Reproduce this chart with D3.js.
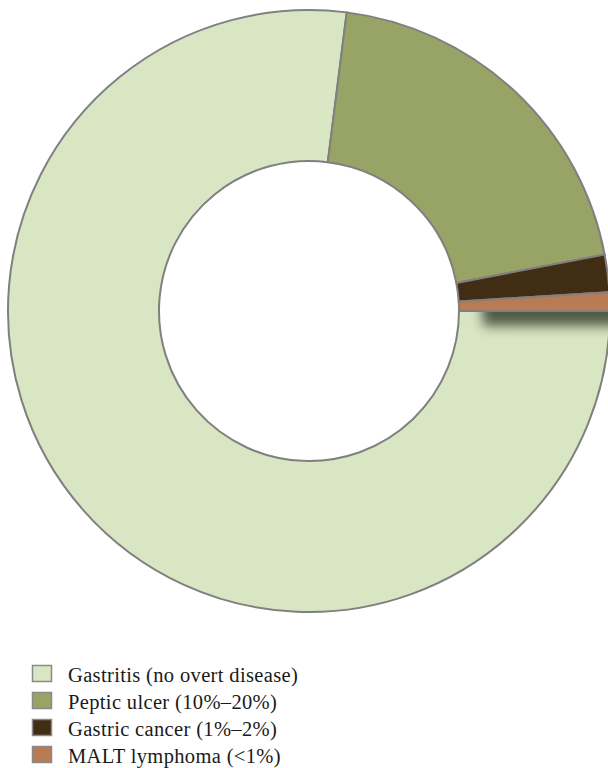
<!DOCTYPE html>
<html>
<head>
<meta charset="utf-8">
<script src="https://cdn.jsdelivr.net/npm/d3@7"></script>
<style>
  html, body { margin: 0; padding: 0; background: #fff; }
  svg { display: block; }
</style>
</head>
<body>
<div id="chart"></div>
<script>
// Outcomes of H. pylori infection
const categories = ['Gastritis (no overt disease)', 'Peptic ulcer (10%\u201320%)', 'Gastric cancer (1%\u20132%)', 'MALT lymphoma (<1%)'];
const shares = [77, 20, 2, 1];
const colours = ['#d9e6c4', '#98a366', '#412c14', '#b97b53'];

const width = 608;
const height = 768;
const cx = 309, cy = 311;
const outerR = 301, innerR = 150;

const svg = d3.select('#chart')
  .append('svg')
  .attr('width', width)
  .attr('height', height);

const defs = svg.append('defs');

defs.append('filter')
  .attr('id', 'blur')
  .attr('filterUnits', 'userSpaceOnUse')
  .attr('x', 0).attr('y', -150)
  .attr('width', 400).attr('height', 300)
  .append('feGaussianBlur')
  .attr('stdDeviation', 6);

const data = categories.map((name, i) => ({ name, value: shares[i], colour: colours[i] }));

// start at 3 o'clock, go clockwise
const pie = d3.pie()
  .sort(null)
  .value(d => d.value)
  .startAngle(Math.PI / 2)
  .endAngle(Math.PI / 2 + 2 * Math.PI);

const arc = d3.arc().innerRadius(innerR).outerRadius(outerR);
const arcs = pie(data);

defs.append('clipPath')
  .attr('id', 'ring')
  .append('path')
  .attr('d', arc(arcs[0]));

const g = svg.append('g')
  .attr('transform', `translate(${cx},${cy})`);

// main slice first
g.append('path')
  .attr('d', arc(arcs[0]))
  .attr('fill', arcs[0].data.colour)
  .attr('stroke', '#808080')
  .attr('stroke-width', 2);

// drop shadow of the small slices falling onto the big one
const shadowSrc = { startAngle: arcs[2].startAngle, endAngle: arcs[3].endAngle };
g.append('g')
  .attr('clip-path', 'url(#ring)')
  .append('path')
  .attr('d', d3.arc().innerRadius(innerR + 24).outerRadius(outerR + 40)(shadowSrc))
  .attr('transform', 'translate(0,15)')
  .attr('fill', '#1c2814')
  .attr('opacity', 0.72)
  .attr('filter', 'url(#blur)');

g.selectAll('path.slice')
  .data(arcs.slice(1))
  .join('path')
  .attr('class', 'slice')
  .attr('d', arc)
  .attr('fill', d => d.data.colour)
  .attr('stroke', '#808080')
  .attr('stroke-width', 2);

// legend
const legend = svg.append('g')
  .attr('transform', 'translate(32,665)');

const rows = legend.selectAll('g')
  .data(data)
  .join('g')
  .attr('transform', (d, i) => `translate(0,${i * 27})`);

rows.append('rect')
  .attr('width', 19)
  .attr('height', 16)
  .attr('x', 0.5)
  .attr('y', 0.5)
  .attr('fill', d => d.colour)
  .attr('stroke', '#8a8a8a')
  .attr('stroke-width', 1.5);

rows.append('text')
  .attr('x', 36)
  .attr('y', 16.5)
  .style('font-family', '"Liberation Serif", "DejaVu Serif", serif')
  .style('font-size', '20.5px')
  .style('letter-spacing', '0.35px')
  .attr('fill', '#1a1a1a')
  .text(d => d.name);
</script>
</body>
</html>
